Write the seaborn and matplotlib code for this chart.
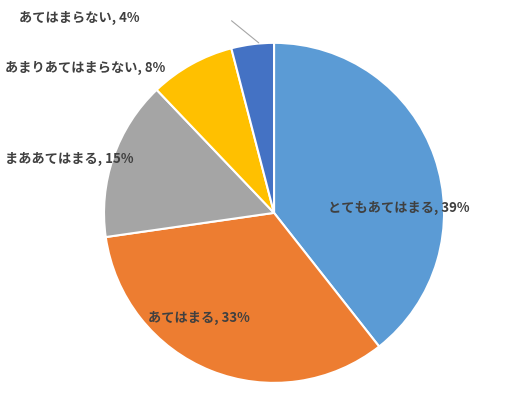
import matplotlib
matplotlib.use('Agg')
import matplotlib.pyplot as plt
import seaborn as sns

sns.set_theme(style='white')
plt.rcParams['font.family'] = ['Noto Sans CJK JP', 'DejaVu Sans']

labels = ['とてもあてはまる', 'あてはまる', 'まああてはまる', 'あまりあてはまらない', 'あてはまらない']
values = [39, 33, 15, 8, 4]
colors = ['#5B9BD5', '#ED7D31', '#A5A5A5', '#FFC000', '#4472C4']

fig = plt.figure(figsize=(5.28, 4.02), dpi=100)
ax = fig.add_axes([0.519 - 0.322, 0.468 - 0.423, 0.644, 0.846])
ax.pie(values, colors=colors, startangle=90, counterclock=False,
       wedgeprops={'edgecolor': 'white', 'linewidth': 1.5})
ax.set_xlim(-1, 1)
ax.set_ylim(-1, 1)

# ラベル位置（データ座標、左端）
pos = [(0.32, 0.035), (-0.74, -0.61), (-1.58, 0.32), (-1.58, 0.86), (-1.50, 1.15)]
for (x, y), lab, v in zip(pos, labels, values):
    ax.text(x, y, f'{lab}, {v}%', ha='left', va='center', fontsize=9.5,
            fontweight='bold', color='#404040', clip_on=False)

ax.plot([-0.25, -0.09], [1.13, 1.0], color='#A6A6A6', lw=0.8, clip_on=False)

fig.savefig('out.png', dpi=100)
